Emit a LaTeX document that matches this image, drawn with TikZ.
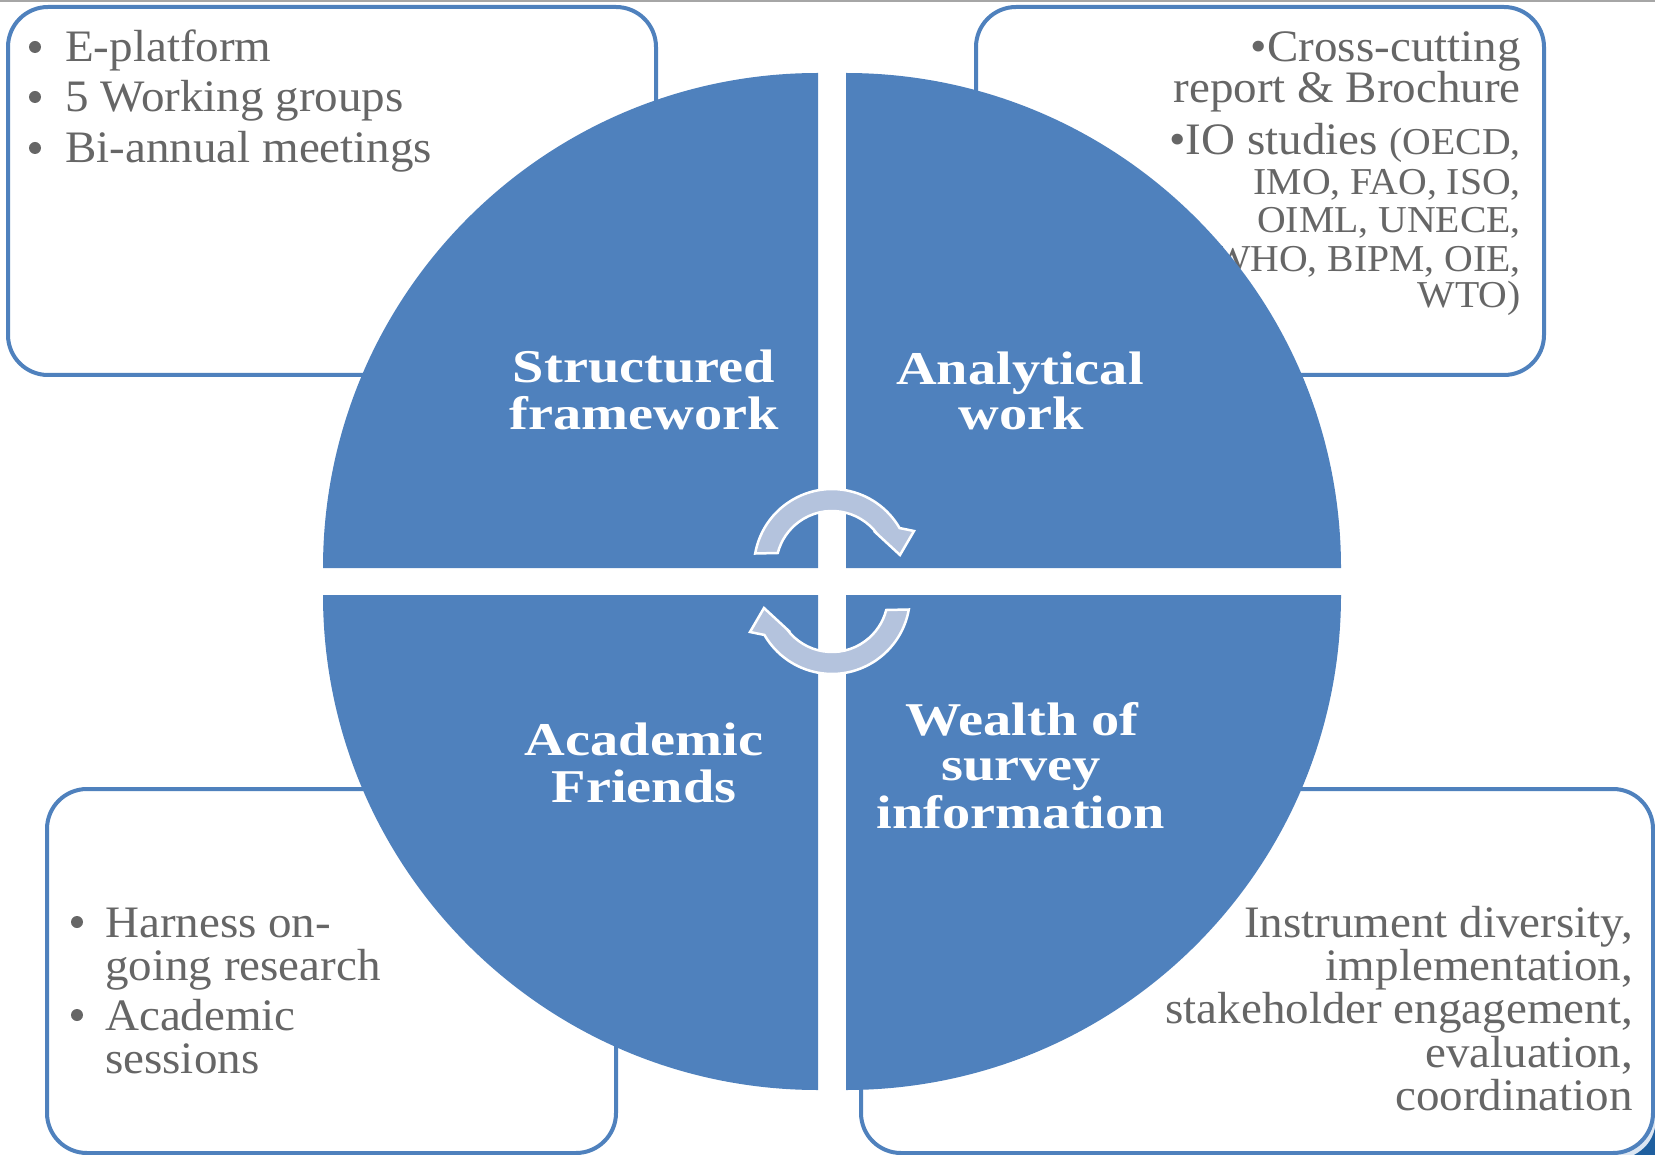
\documentclass[tikz,border=0pt]{standalone}
\usepackage{fontspec}
\setmainfont{Liberation Serif}[FakeStretch=1.045]
\newfontfamily\headfont{Liberation Serif}[FakeStretch=1.2]
\definecolor{qblue}{HTML}{4F81BD}
\definecolor{txtgray}{HTML}{666666}
\definecolor{arrowfill}{HTML}{B4C3DD}
\definecolor{paleblue}{HTML}{DCE6F2}
\definecolor{deepblue}{HTML}{1F5F9F}
\tikzset{
  panel/.style={draw=qblue, line width=4pt, fill=white, rounded corners=40pt},
  quad/.style={fill=qblue},
  cyc/.style={fill=arrowfill, draw=white, line width=2.5pt, line join=miter},
  gtext/.style={text=txtgray, inner sep=0pt, font=\fontsize{45}{50}\selectfont},
  gsmall/.style={text=txtgray, inner sep=0pt, font=\fontsize{38}{40}\selectfont},
  dotmark/.style={fill=txtgray},
  head/.style={text=white, inner sep=0pt, anchor=base, font=\headfont\bfseries\fontsize{47}{47}\selectfont},
}
\newcommand\cyclepath{(755.2,553.5) arc[start angle=-170, end angle=-30, radius=78] -- (914,531) -- (900,555) -- (874,531) -- (877.3,534.1) arc[start angle=-36, end angle=-165.5, radius=56] -- cycle}
\begin{document}
\begin{tikzpicture}[x=1pt,y=-1pt]
\useasboundingbox (0,0) rectangle (1655,1155);
% corner decoration
\fill[paleblue] (1617,1155) -- (1655,1093) -- (1655,1155) -- cycle;
\fill[deepblue] (1634,1155) .. controls (1645,1149) and (1652,1141) .. (1655,1128) -- (1655,1155) -- cycle;
% panels
\draw[panel] (8,7) rectangle (656,375);
\draw[panel] (976,7) rectangle (1544,375);
\draw[panel] (47,789) rectangle (616,1153);
\draw[panel] (861,789) rectangle (1653,1153);
% top-left list
\fill[dotmark] (35,47) circle (6);
\fill[dotmark] (35,97) circle (6);
\fill[dotmark] (35,148) circle (6);
\node[gtext, anchor=base west] (tl1) at (65,62) {E-platform};
\node[gtext, anchor=base west] (tl2) at (65,112) {5 Working groups};
\node[gtext, anchor=base west] (tl3) at (65,163) {Bi-annual meetings};
% top-right text
\node[gtext, anchor=base east] (tr1) at (1521,62) {•Cross-cutting};
\node[gtext, anchor=base east] (tr2) at (1521,103) {report \& Brochure};
\node[gtext, anchor=base east] (tr3) at (1521,155) {•IO studies {\fontsize{38}{40}\selectfont (OECD,}};
\node[gsmall, anchor=base east] (tr4) at (1521,195) {IMO, FAO, ISO,};
\node[gsmall, anchor=base east] (tr5) at (1521,233) {OIML, UNECE,};
\node[gsmall, anchor=base east] (tr6) at (1521,272) {WHO, BIPM, OIE,};
\node[gsmall, anchor=base east] (tr7) at (1521,308) {WTO)};
% bottom-left list
\fill[dotmark] (77,922) circle (6);
\fill[dotmark] (77,1015) circle (6);
\node[gtext, anchor=base west] (bl1) at (105,937) {Harness on-};
\node[gtext, anchor=base west] (bl2) at (105,980) {going research};
\node[gtext, anchor=base west] (bl3) at (105,1030) {Academic};
\node[gtext, anchor=base west] (bl4) at (105,1073) {sessions};
% bottom-right text
\node[gtext, anchor=base east] (br1) at (1633,937) {Instrument diversity,};
\node[gtext, anchor=base east] (br2) at (1633,980) {implementation,};
\node[gtext, anchor=base east] (br3) at (1633,1023) {stakeholder engagement,};
\node[gtext, anchor=base east] (br4) at (1633,1067) {evaluation,};
\node[gtext, anchor=base east] (br5) at (1633,1110) {coordination};
% quadrants
\fill[quad] (818,568) -- ++(-495,0) arc[start angle=180, end angle=270, radius=495] -- cycle;
\fill[quad] (846,568) -- ++(0,-495) arc[start angle=270, end angle=360, radius=495] -- cycle;
\fill[quad] (818,595) -- ++(0,495) arc[start angle=90, end angle=180, radius=495] -- cycle;
\fill[quad] (846,595) -- ++(495,0) arc[start angle=0, end angle=90, radius=495] -- cycle;
% cycle arrows
\path[cyc] \cyclepath;
\begin{scope}[rotate around={180:(832,581.5)}]
\path[cyc] \cyclepath;
\end{scope}
% quadrant titles
\node[head] (s1) at (644,383) {Structured};
\node[head] (s2) at (644,430) {framework};
\node[head] (a1) at (1020,385) {Analytical};
\node[head] (a2) at (1021,430) {work};
\node[head] (f1) at (644,755) {Academic};
\node[head] (f2) at (644,802) {Friends};
\node[head] (w1) at (1022,735) {Wealth of};
\node[head] (w2) at (1021,780) {survey};
\node[head] (w3) at (1021,828) {information};
% top rule
\draw[gray!70, line width=2pt] (0,1) -- (1655,1);
\end{tikzpicture}
\end{document}
